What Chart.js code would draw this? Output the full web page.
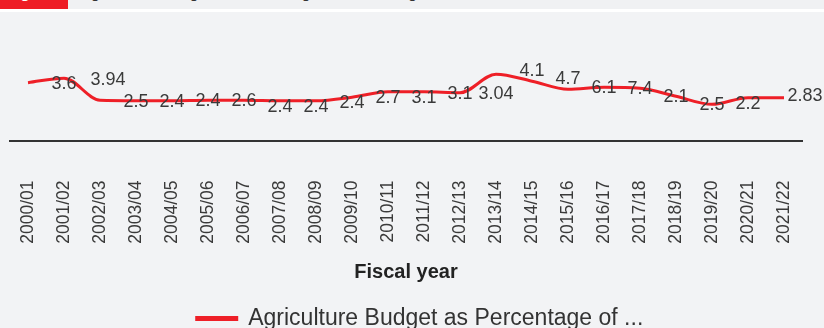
<!DOCTYPE html>
<html>
<head>
<meta charset="utf-8">
<script src="https://cdn.jsdelivr.net/npm/chart.js@4.4.1/dist/chart.umd.min.js"></script>
<style>
  html, body { margin: 0; padding: 0; background: #f2f3f5; overflow: hidden; }
  body { width: 824px; height: 328px; position: relative; font-family: "Liberation Sans", Arial, sans-serif; }
  .topbar { position: absolute; left: 0; top: 0; width: 824px; height: 9px; background: #f0f1f3; overflow: hidden; z-index: 2; }
  .tag { position: absolute; left: 0; top: 0; width: 68px; height: 9px; background: #ee1c25; overflow: hidden; }
  .tag span, .ttl { position: absolute; top: -15px; font-size: 16px; line-height: 16px; white-space: nowrap; }
  .tag span { left: 6px; color: #fff; font-weight: bold; }
  .ttl { left: 80px; color: #333; }
  .sep { position: absolute; left: 0; top: 9px; width: 824px; height: 3px; background: #fff; z-index: 2; }
  #wrap { position: absolute; left: 0; top: 0; width: 824px; height: 340px; }
</style>
</head>
<body>
<div class="topbar"><div class="tag"><span>Figure</span></div><span class="ttl">Agriculture Budget as Percentage of Total Budget</span></div>
<div class="sep"></div>
<div id="wrap"><canvas id="budgetChart"></canvas></div>
<script>
// valores
const years = ['2000/01', '2001/02', '2002/03', '2003/04', '2004/05', '2005/06', '2006/07', '2007/08',
    '2008/09', '2009/10', '2010/11', '2011/12', '2012/13', '2013/14', '2014/15', '2015/16',
    '2016/17', '2017/18', '2018/19', '2019/20', '2020/21', '2021/22'];
const budgetShare = [3.6, 3.88, 2.5, 2.47, 2.47, 2.5, 2.5, 2.47, 2.47, 2.69, 3.03, 3.03,
    2.97, 4.12, 3.69, 3.19, 3.31, 3.25, 2.75, 2.25, 2.66, 2.66];
const shownLabels = [null, '3.6', '3.94', '2.5', '2.4', '2.4', '2.6', '2.4', '2.4', '2.4', '2.7',
    '3.1', '3.1', '3.04', '4.1', '4.7', '6.1', '7.4', '2.1', '2.5', '2.2', '2.83'];
const labelSpot = [null, 'below', 'upRight', 'on', 'on', 'on', 'on', 'below', 'below', 'below', 'below',
    'below', 'on', 'farBelow', 'above', 'above', 'on', 'on', 'on', 'on', 'below', 'right'];

const FONT = '"Liberation Sans", Arial, sans-serif';

// deslocamento do rotulo em relacao ao ponto
const spots = { on: [0, 1], below: [0, 6], above: [0, -10], farBelow: [0, 20], upRight: [8, -20], right: [21, -2] };

const pointLabels = {
    id: 'pointLabels',
    afterLayout(chart) {
        // legenda um pouco para a direita, como no original
        if (chart.legend) { chart.legend.left += 14; chart.legend.right += 14; }
    },
    afterDatasetsDraw(chart) {
        const ctx = chart.ctx;
        const meta = chart.getDatasetMeta(0);
        ctx.save();
        ctx.font = '18px ' + FONT;
        ctx.fillStyle = '#3a3a3a';
        ctx.textAlign = 'center';
        ctx.textBaseline = 'middle';
        meta.data.forEach((pt, i) => {
            const txt = shownLabels[i];
            if (!txt) return;
            const [dx, dy] = spots[labelSpot[i]];
            ctx.fillText(txt, pt.x + dx, pt.y + dy);
        });
        ctx.restore();
    }
};

const ctx = document.getElementById('budgetChart').getContext('2d');
new Chart(ctx, {
    type: 'line',
    data: {
        labels: years,
        datasets: [{
            label: 'Agriculture Budget as Percentage of ...',
            data: budgetShare,
            borderColor: '#ee1f27',
            backgroundColor: '#ee1f27',
            borderWidth: 3,
            pointRadius: 0,
            cubicInterpolationMode: 'monotone',
            fill: false
        }]
    },
    options: {
        responsive: true,
        maintainAspectRatio: false,
        animation: false,
        layout: { padding: { top: 28, left: 10, right: 22, bottom: 0 } },
        plugins: {
            tooltip: { enabled: false },
            legend: {
                position: 'bottom',
                labels: { boxWidth: 40, boxHeight: 2, padding: 18.5, color: '#333', font: { size: 23, family: FONT } }
            }
        },
        scales: {
            x: {
                offset: true,
                // sem padding extra dos rotulos girados, altura fixa do eixo
                afterFit: scale => { scale.paddingLeft = 0; scale.paddingRight = 0; scale.height = 148; },
                grid: { display: false, drawTicks: false },
                border: { color: '#333', width: 2 },
                ticks: { maxRotation: 90, minRotation: 90, padding: 40, color: '#3a3a3a', font: { size: 17.5, family: FONT } },
                title: { display: true, text: 'Fiscal year', color: '#222', padding: { top: 0, bottom: 4 },
                    font: { size: 20, weight: 'bold', family: FONT } }
            },
            y: { display: false, min: 0, max: 7 }
        }
    },
    plugins: [pointLabels]
});
</script>
</body>
</html>
